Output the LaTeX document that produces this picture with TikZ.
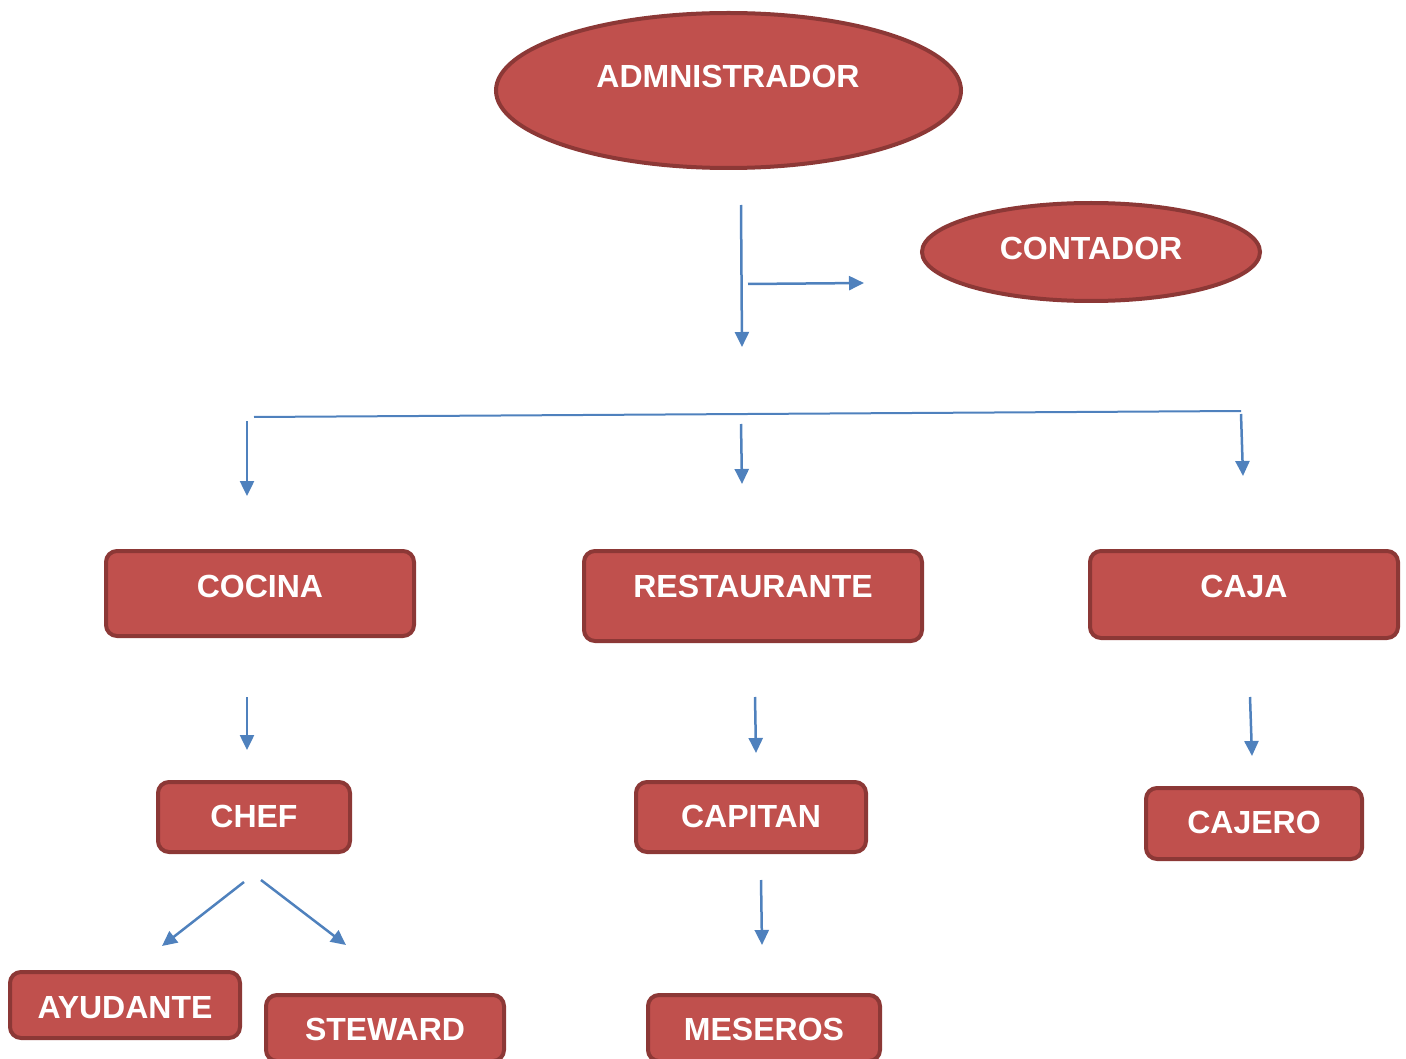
\documentclass[tikz,border=0pt]{standalone}
\usepackage{fontspec}
\setmainfont{Liberation Sans}
\usetikzlibrary{shapes.geometric,arrows.meta}
\definecolor{boxfill}{HTML}{C0504D}
\definecolor{boxline}{HTML}{8C3836}
\definecolor{arrowblue}{HTML}{4F81BD}
\tikzset{
  box/.style={draw=boxline, fill=boxfill, line width=4pt, rounded corners=11pt, inner sep=0pt},
  oval/.style={ellipse, draw=boxline, fill=boxfill, line width=4pt, inner sep=0pt},
  lbl/.style={text=white, font=\fontsize{32}{32}\selectfont\bfseries, inner sep=0pt, text height=23pt, text depth=0pt},
  arr/.style={draw=arrowblue, line width=2.5pt, -{Triangle[length=15pt,width=14pt]}},
  plainline/.style={draw=arrowblue, line width=2pt}
}
\begin{document}
\begin{tikzpicture}[x=1pt,y=-1pt]
\useasboundingbox (0,0) rectangle (1406,1059);
% shapes
\node[oval, minimum width=465pt, minimum height=155pt] (admin) at (728.5,90.5) {};
\node[oval, minimum width=338pt, minimum height=98pt] (contador) at (1091,252) {};
\node[box, minimum width=308pt, minimum height=85pt] (cocina) at (260,593.5) {};
\node[box, minimum width=338pt, minimum height=90pt] (restaurante) at (753,596) {};
\node[box, minimum width=308pt, minimum height=87pt] (caja) at (1244,594.5) {};
\node[box, minimum width=192pt, minimum height=70pt] (chef) at (254,817) {};
\node[box, minimum width=230pt, minimum height=70pt] (capitan) at (751,817) {};
\node[box, minimum width=216pt, minimum height=71pt] (cajero) at (1254,823.5) {};
\node[box, minimum width=230pt, minimum height=66pt] (ayudante) at (125,1005) {};
\node[box, minimum width=238pt, minimum height=66pt] (steward) at (385,1028) {};
\node[box, minimum width=232pt, minimum height=66pt] (meseros) at (764,1028) {};
% labels
\node[lbl] (adminT) at (728,76) {ADMNISTRADOR};
\node[lbl] (contadorT) at (1091,248) {CONTADOR};
\node[lbl] (cocinaT) at (260,586) {COCINA};
\node[lbl] (restauranteT) at (753,586) {RESTAURANTE};
\node[lbl] (cajaT) at (1244,586) {CAJA};
\node[lbl] (chefT) at (254,816) {CHEF};
\node[lbl] (capitanT) at (751,816) {CAPITAN};
\node[lbl] (cajeroT) at (1254,822) {CAJERO};
\node[lbl] (ayudanteT) at (125,1007) {AYUDANTE};
\node[lbl] (stewardT) at (385,1029) {STEWARD};
\node[lbl] (meserosT) at (764,1029) {MESEROS};
% connector endpoints
\coordinate (a1) at (741,205); \coordinate (a2) at (742,347);
\coordinate (h1) at (748,284); \coordinate (h2) at (864,283);
\coordinate (l1) at (254,417); \coordinate (l2) at (1241,411);
\coordinate (c1) at (247,421); \coordinate (c2) at (247,496);
\coordinate (r1) at (741,424); \coordinate (r2) at (742,484);
\coordinate (k1) at (1241,414); \coordinate (k2) at (1243,476);
\coordinate (d1) at (247,697); \coordinate (d2) at (247,750);
\coordinate (e1) at (755,697); \coordinate (e2) at (756,753);
\coordinate (f1) at (1250,697); \coordinate (f2) at (1252,756);
\coordinate (g1) at (244,882); \coordinate (g2) at (162,946);
\coordinate (s1) at (261,880); \coordinate (s2) at (346,945);
\coordinate (m1) at (761,880); \coordinate (m2) at (762,945);
% connectors
\draw[arr] (a1) -- (a2);
\draw[arr] (h1) -- (h2);
\draw[plainline] (l1) -- (l2);
\draw[arr] (c1) -- (c2);
\draw[arr] (r1) -- (r2);
\draw[arr] (k1) -- (k2);
\draw[arr] (d1) -- (d2);
\draw[arr] (e1) -- (e2);
\draw[arr] (f1) -- (f2);
\draw[arr] (g1) -- (g2);
\draw[arr] (s1) -- (s2);
\draw[arr] (m1) -- (m2);
\end{tikzpicture}
\end{document}
